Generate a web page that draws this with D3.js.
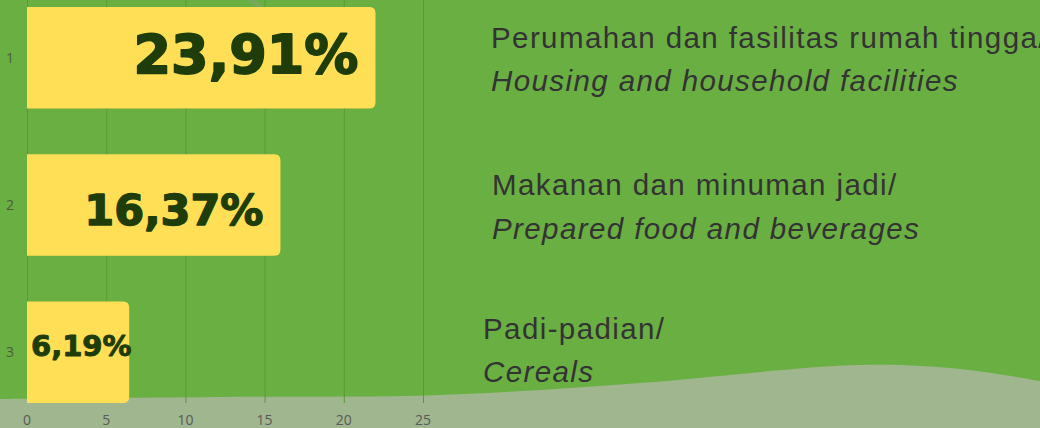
<!DOCTYPE html>
<html lang="en">
<head>
	<meta charset="utf-8">
	<title>Komoditas</title>
	<script src="https://d3js.org/d3.v7.min.js"></script>
	<style>
	body { margin: 0; background: #6aaf42; }
	svg { display: block; }
	</style>
</head>
<body>
	<script>
	// Data
	var ranks = [1, 2, 3];
	var barValues = [22.0, 16.0, 6.45];            // visual bar length on the 0-25 axis
	var valueLabels = ["23,91%", "16,37%", "6,19%"];
	var labelsId = ["Perumahan dan fasilitas rumah tingga/", "Makanan dan minuman jadi/", "Padi-padian/"];
	var labelsEn = ["Housing and household facilities", "Prepared food and beverages", "Cereals"];
	var xTicks = [0, 5, 10, 15, 20, 25];
	var wavePoints = [[0, 399], [220, 397], [440, 395], [640, 383], [860, 365], [960, 369], [1040, 381]];

	var w = 1040;
	var h = 428;

	var svg = d3.select("body")
		.append("svg")
		.attr("width", w)
		.attr("height", h);

	// background
	svg.append("rect")
		.attr("width", w)
		.attr("height", h)
		.attr("fill", "#6aaf42");

	// small decoration at top
	svg.append("line")
		.attr("x1", 249).attr("y1", -2)
		.attr("x2", 261).attr("y2", 8)
		.attr("stroke", "#7fa86a")
		.attr("stroke-width", 5)
		.attr("opacity", 0.7);

	// bottom wave
	var wave = d3.line().curve(d3.curveCatmullRom);
	svg.append("path")
		.attr("d", wave(wavePoints) + "L1040,428L0,428Z")
		.attr("fill", "#9fb68e");

	var x = d3.scaleLinear()
		.domain([0, 25])
		.range([27, 423]);

	var y = d3.scaleBand()
		.domain(ranks)
		.range([7, 403])
		.paddingInner(0.31)
		.paddingOuter(0);

	// grid lines
	svg.selectAll(".grid")
		.data(xTicks)
		.enter()
		.append("line")
		.attr("class", "grid")
		.attr("x1", function(d) { return x(d) + 0.5; })
		.attr("x2", function(d) { return x(d) + 0.5; })
		.attr("y1", 0)
		.attr("y2", 403)
		.attr("stroke", "#5b9a37")
		.attr("stroke-width", 1);

	// x axis tick labels
	svg.selectAll(".xtick")
		.data(xTicks)
		.enter()
		.append("text")
		.attr("class", "xtick")
		.attr("x", function(d) { return x(d); })
		.attr("y", 425)
		.attr("text-anchor", "middle")
		.attr("font-family", "'Open Sans', sans-serif")
		.attr("font-size", 14)
		.attr("fill", "#5a5a5a")
		.text(function(d) { return d; });

	// y axis labels
	svg.selectAll(".ytick")
		.data(ranks)
		.enter()
		.append("text")
		.attr("class", "ytick")
		.attr("x", 10)
		.attr("y", function(d) { return y(d) + y.bandwidth() / 2 + 5; })
		.attr("text-anchor", "middle")
		.attr("font-family", "'Open Sans', sans-serif")
		.attr("font-size", 14)
		.attr("fill", "#4f5a45")
		.text(function(d) { return d; });

	// bars with rounded right end
	function barPath(x0, x1, y0, bh, r) {
		return "M" + x0 + "," + y0 +
			"H" + (x1 - r) +
			"Q" + x1 + "," + y0 + " " + x1 + "," + (y0 + r) +
			"V" + (y0 + bh - r) +
			"Q" + x1 + "," + (y0 + bh) + " " + (x1 - r) + "," + (y0 + bh) +
			"H" + x0 + "Z";
	}

	svg.selectAll(".bar")
		.data(ranks)
		.enter()
		.append("path")
		.attr("class", "bar")
		.attr("d", function(d, i) {
			return barPath(x(0), x(barValues[i]), y(d), y.bandwidth(), 6);
		})
		.attr("fill", "#ffdf55");

	// value labels inside bars
	var labelSize = [54, 43, 29];
	var labelBase = [15.5, 20, 4];   // baseline below band centre
	svg.selectAll(".val")
		.data(ranks)
		.enter()
		.append("text")
		.attr("class", "val")
		.attr("x", function(d, i) { return i < 2 ? x(barValues[i]) - 17 : x(0) + 4; })
		.attr("y", function(d, i) { return y(d) + y.bandwidth() / 2 + labelBase[i]; })
		.attr("text-anchor", function(d, i) { return i < 2 ? "end" : "start"; })
		.attr("font-family", "'DejaVu Sans', sans-serif")
		.attr("font-weight", "bold")
		.attr("font-size", function(d, i) { return labelSize[i]; })
		.attr("fill", "#1e3d0a")
		.attr("stroke", "#1e3d0a")
		.attr("stroke-width", function(d, i) { return labelSize[i] / 30; })
		.attr("stroke-linejoin", "round")
		.text(function(d, i) { return valueLabels[i]; });

	// category labels on the right
	var labelX = [491, 492, 483];
	var lineOffset = [[-9.5, 33.5], [-9.7, 34.3], [-13, 30]];
	var cat = svg.selectAll(".cat")
		.data(ranks)
		.enter()
		.append("g")
		.attr("class", "cat");

	cat.append("text")
		.attr("x", function(d, i) { return labelX[i]; })
		.attr("y", function(d, i) { return y(d) + y.bandwidth() / 2 + lineOffset[i][0]; })
		.attr("font-family", "'Liberation Sans', Arial, sans-serif")
		.attr("font-size", 29.5)
		.attr("letter-spacing", 1.4)
		.attr("fill", "#333333")
		.text(function(d, i) { return labelsId[i]; });

	cat.append("text")
		.attr("x", function(d, i) { return labelX[i]; })
		.attr("y", function(d, i) { return y(d) + y.bandwidth() / 2 + lineOffset[i][1]; })
		.attr("font-family", "'Liberation Sans', Arial, sans-serif")
		.attr("font-style", "italic")
		.attr("font-size", 29.5)
		.attr("letter-spacing", 1.4)
		.attr("fill", "#333333")
		.text(function(d, i) { return labelsEn[i]; });
	</script>
</body>
</html>
